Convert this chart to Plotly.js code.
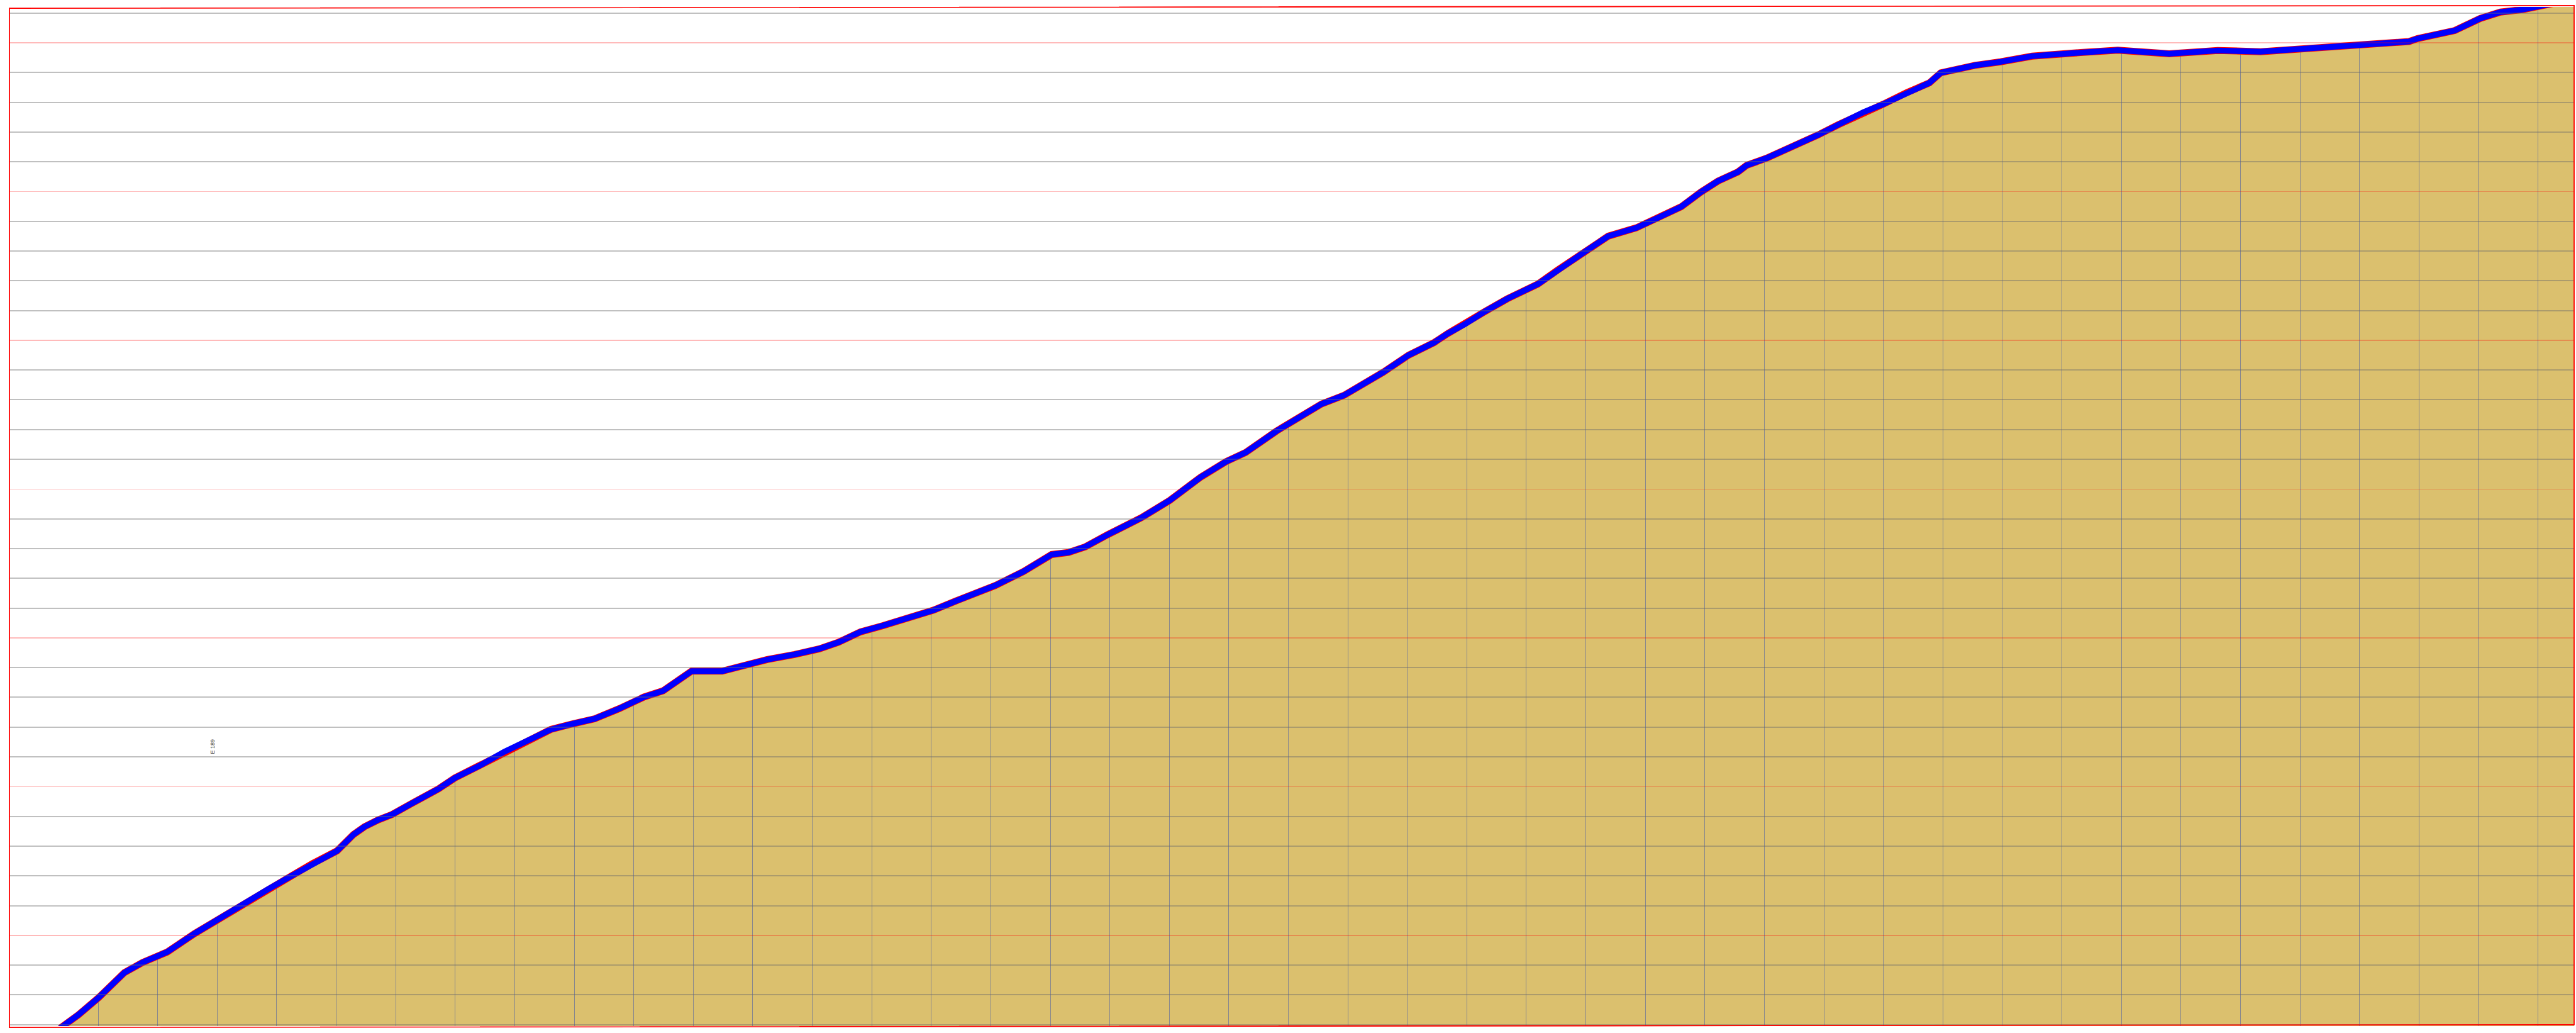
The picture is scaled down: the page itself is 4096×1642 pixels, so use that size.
<!DOCTYPE html>
<html>
<head>
<meta charset="utf-8">
<script src="https://cdn.plot.ly/plotly-3.0.1.min.js"></script>
<style>
html,body{margin:0;padding:0;background:#ffffff;overflow:hidden;}
#chart{width:4096px;height:1642px;}
</style>
</head>
<body>
<div id="chart"></div>
<script>
// Profile: distance along section (grid every 100) and level (grid every 1, red every 5)
const distance = [
  36, 66.8, 100.9, 144.2, 174.6, 216.0, 262.1, 303.5, 340.3, 386.4,
  423.2, 460.0, 501.5, 529.1, 547.5, 570.5, 593.6, 625.8, 658.0, 671.8,
  699.5, 740.9, 782.3, 809.9, 860.6, 897.4, 934.3, 975.7, 1017.1, 1049.4,
  1072.4, 1097.2, 1148.8, 1187.5, 1224.3, 1270.3, 1311.8, 1344.0, 1381.1, 1418.9,
  1456.7, 1475.6, 1503.9, 1541.7, 1607.8, 1655.1, 1702.3, 1730.7, 1759.0, 1796.8,
  1853.5, 1900.7, 1952.7, 1995.2, 2028.3, 2080.2, 2122.8, 2155.8, 2193.6, 2259.7,
  2302.2, 2344.7, 2368.4, 2396.7, 2429.8, 2467.6, 2519.5, 2552.6, 2595.1, 2637.6,
  2684.8, 2722.6, 2760.4, 2793.3, 2822.1, 2855.7, 2870.1, 2903.6, 2946.8, 2990.0,
  3023.6, 3066.8, 3100.4, 3138.8, 3177.2, 3196.4, 3253.9, 3297.1, 3349.9, 3431.5,
  3493.9, 3580.2, 3661.8, 3733.8, 3815.4, 3901.7, 3983.3, 3997.7, 4060.1, 4103.3,
  4136.9, 4175.3, 4208.8, 4270.0
];
const elevation = [
  1.88, 2.33, 2.91, 3.75, 4.09, 4.44, 5.06, 5.57, 6.00, 6.56,
  6.98, 7.41, 7.84, 8.39, 8.65, 8.88, 9.06, 9.42, 9.76, 9.92,
  10.29, 10.70, 11.17, 11.43, 11.92, 12.11, 12.28, 12.62, 13.01, 13.22,
  13.56, 13.88, 13.88, 14.10, 14.27, 14.44, 14.63, 14.85, 15.20, 15.41,
  15.64, 15.72, 15.93, 16.24, 16.76, 17.23, 17.80, 17.87, 18.06, 18.47,
  19.04, 19.62, 20.40, 20.92, 21.23, 21.95, 22.47, 22.86, 23.15, 23.93,
  24.50, 24.92, 25.23, 25.54, 25.96, 26.39, 26.89, 27.36, 27.93, 28.50,
  28.78, 29.13, 29.49, 29.98, 30.35, 30.66, 30.88, 31.12, 31.49, 31.90,
  32.24, 32.67, 32.94, 33.32, 33.65, 33.99, 34.24, 34.36, 34.55, 34.67,
  34.75, 34.63, 34.74, 34.70, 34.82, 34.95, 35.04, 35.14, 35.41, 35.82,
  36.03, 36.12, 36.25, 36.50
];
const labelText = 'E 189';
const labelDistance = 292.3;
const labelElevation = 11.35;

const X_RANGE = [-49.07, 4260.7];
const Y_RANGE = [1.951, 36.204];

const TAN = '#DBC06E';

function xAxis(extra) {
  return Object.assign({
    range: X_RANGE, showticklabels: false, ticks: '', zeroline: false,
    showline: false, showgrid: false, fixedrange: true, tickmode: 'linear',
    tick0: 0, dtick: 100
  }, extra);
}
function yAxis(extra) {
  return Object.assign({
    range: Y_RANGE, showticklabels: false, ticks: '', zeroline: false,
    showline: false, showgrid: false, fixedrange: true, tickmode: 'linear',
    tick0: 0, dtick: 5
  }, extra);
}

// polygon of the sky above the profile, closed along the axis extents
const skyX = distance.concat([X_RANGE[1], X_RANGE[0], X_RANGE[0]]);
const skyY = elevation.concat([Y_RANGE[1] + 1, Y_RANGE[1] + 1, Y_RANGE[0] - 1]);

const traces = [
  // subplot 1: ground fill
  {type: 'scatter', x: distance, y: elevation, xaxis: 'x', yaxis: 'y',
   mode: 'none', fill: 'tozeroy', fillcolor: TAN, hoverinfo: 'skip'},
  // subplot 2: sky mask above profile (hides vertical grid above ground)
  {type: 'scatter', x: skyX, y: skyY, xaxis: 'x2', yaxis: 'y2',
   mode: 'none', fill: 'toself', fillcolor: '#ffffff', hoverinfo: 'skip'},
  // profile line
  {type: 'scatter', x: distance, y: elevation, xaxis: 'x2', yaxis: 'y2',
   mode: 'lines', line: {color: '#ff0000', width: 11}, hoverinfo: 'skip'},
  {type: 'scatter', x: distance, y: elevation, xaxis: 'x2', yaxis: 'y2',
   mode: 'lines', line: {color: '#0000ff', width: 9.2}, hoverinfo: 'skip'},
  // subplot 3: carries the horizontal grid above everything
  {type: 'scatter', x: [distance[0]], y: [elevation[0]], xaxis: 'x3', yaxis: 'y3',
   mode: 'none', hoverinfo: 'skip'}
];

const layout = {
  width: 4096, height: 1642,
  margin: {l: 15, r: 3, t: 11, b: 11, pad: 0},
  paper_bgcolor: '#ffffff',
  plot_bgcolor: 'rgba(0,0,0,0)',
  showlegend: false,
  font: {family: 'Liberation Sans, Arial, sans-serif'},
  xaxis: xAxis({anchor: 'y'}),
  yaxis: yAxis({anchor: 'x'}),
  xaxis2: xAxis({anchor: 'y2', showgrid: true, gridcolor: '#86868e', gridwidth: 1}),
  yaxis2: yAxis({anchor: 'x2'}),
  xaxis3: xAxis({anchor: 'y3'}),
  yaxis3: yAxis({anchor: 'x3', showgrid: true, gridcolor: 'rgba(255,0,0,0.27)', gridwidth: 1.6,
    minor: {tick0: 0, dtick: 1, showgrid: true, gridcolor: 'rgba(105,105,105,0.42)', gridwidth: 2}}),
  shapes: [{
    type: 'path', xref: 'paper', yref: 'paper', layer: 'above',
    path: 'M 0,0.99865 L 1,1.00135 L 1,0.00135 L 0,-0.00135 Z',
    line: {color: '#ff0000', width: 1.8}, fillcolor: 'rgba(0,0,0,0)'
  }],
  annotations: [{
    xref: 'x3', yref: 'y3', x: labelDistance, y: labelElevation,
    text: labelText, showarrow: false, textangle: -90,
    font: {family: 'Liberation Sans, Arial, sans-serif', size: 9, color: '#333333'}
  }]
};

Plotly.newPlot('chart', traces, layout, {staticPlot: true, displayModeBar: false});
</script>
</body>
</html>
